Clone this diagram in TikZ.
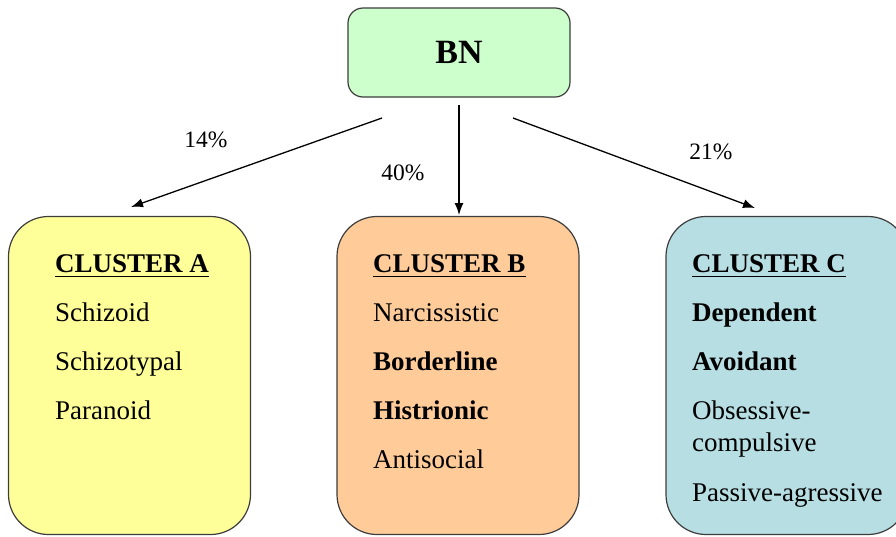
\documentclass[tikz,border=0pt]{standalone}
\usepackage{fontspec}
\setmainfont{Liberation Serif}
\usetikzlibrary{arrows.meta}
\definecolor{bngreen}{HTML}{CCFFCC}
\definecolor{clA}{HTML}{FFFF99}
\definecolor{clB}{HTML}{FFCC99}
\definecolor{clC}{HTML}{B7DEE3}
\definecolor{edge}{HTML}{3C3C3C}
\tikzset{
  box/.style={draw=edge, line width=1.2pt, inner sep=0pt},
  item/.style={inner sep=0pt, anchor=base west, font=\fontsize{27}{30}\selectfont},
  head/.style={item, font=\fontsize{27}{30}\selectfont\bfseries},
  bitem/.style={item, font=\fontsize{27}{30}\selectfont\bfseries},
  pct/.style={inner sep=0pt, font=\fontsize{23.5}{26}\selectfont},
  arr/.style={line width=1.3pt, -{Latex[length=12pt,width=9pt]}},
  ul/.style={line width=1.4pt}
}
\begin{document}
\begin{tikzpicture}[x=1pt,y=-1pt]
\path[use as bounding box] (0,0) rectangle (896,536);
\clip (0,0) rectangle (896,536);
% top box
\node[box, fill=bngreen, rounded corners=15pt, minimum width=222pt, minimum height=89pt,
      font=\fontsize{34}{38}\selectfont\bfseries] (BN) at (459,52.5) {BN};
% cluster boxes
\node[box, fill=clA, rounded corners=40pt, minimum width=242pt, minimum height=318pt] (A) at (129.5,375.5) {};
\node[box, fill=clB, rounded corners=40pt, minimum width=242pt, minimum height=318pt] (B) at (458,375.5) {};
\node[box, fill=clC, rounded corners=40pt, minimum width=242pt, minimum height=318pt] (C) at (787,375.5) {};
% arrows
\coordinate (sA) at (382,118);
\coordinate (eA) at (131,207);
\coordinate (sB) at (459,105);
\coordinate (eB) at (459,215);
\coordinate (sC) at (513,118);
\coordinate (eC) at (755,208);
\draw[arr] (sA) -- (eA);
\draw[arr] (sB) -- (eB);
\draw[arr] (sC) -- (eC);
\node[pct] (pA) at (206,140) {14\%};
\node[pct] (pB) at (403,173) {40\%};
\node[pct] (pC) at (711,152) {21\%};
% cluster A text
\node[head] (hA) at (55,272) {CLUSTER A};
\draw[ul] ([yshift=-4.5pt]hA.base west) -- ([yshift=-4.5pt]hA.base east);
\node[item] (a1) at (55,321) {Schizoid};
\node[item] (a2) at (55,370) {Schizotypal};
\node[item] (a3) at (55,419) {Paranoid};
% cluster B text
\node[head] (hB) at (373,272) {CLUSTER B};
\draw[ul] ([yshift=-4.5pt]hB.base west) -- ([yshift=-4.5pt]hB.base east);
\node[item] (b1) at (373,321) {Narcissistic};
\node[bitem] (b2) at (373,370) {Borderline};
\node[bitem] (b3) at (373,419) {Histrionic};
\node[item] (b4) at (373,468) {Antisocial};
% cluster C text
\node[head] (hC) at (692,272) {CLUSTER C};
\draw[ul] ([yshift=-4.5pt]hC.base west) -- ([yshift=-4.5pt]hC.base east);
\node[bitem] (c1) at (692,321) {Dependent};
\node[bitem] (c2) at (692,370) {Avoidant};
\node[item] (c3) at (692,419) {Obsessive-};
\node[item] (c4) at (692,451) {compulsive};
\node[item] (c5) at (692,501) {Passive-agressive};
\end{tikzpicture}
\end{document}
